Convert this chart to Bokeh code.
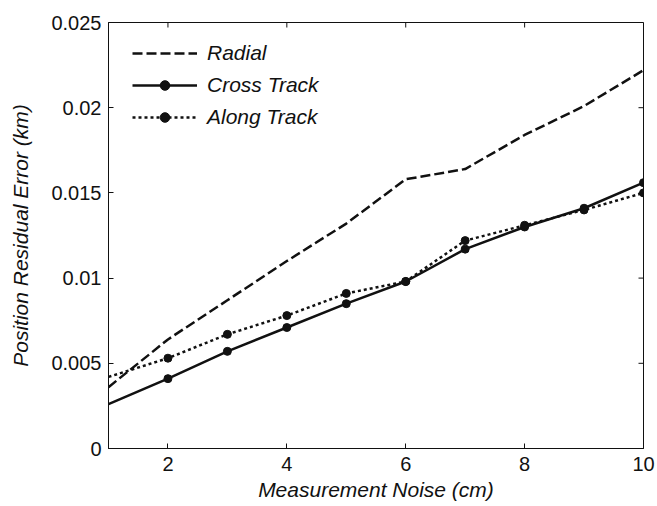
import math
from bokeh.plotting import figure
from bokeh.models import FixedTicker, Legend, LegendItem, Range1d
from bokeh.embed import file_html
from bokeh.resources import INLINE

# ---- data ----
noise_cm = [1, 2, 3, 4, 5, 6, 7, 8, 9, 10]
radial = [0.0036, 0.0064, 0.0087, 0.0110, 0.0132, 0.0158, 0.0164, 0.0184, 0.0201, 0.0222]
cross_track = [0.0026, 0.0041, 0.0057, 0.0071, 0.0085, 0.0098, 0.0117, 0.0130, 0.0141, 0.0156]
along_track = [0.0042, 0.0053, 0.0067, 0.0078, 0.0091, 0.0098, 0.0122, 0.0131, 0.0140, 0.0150]
x_ticks = [2, 4, 6, 8, 10]
y_ticks = [0, 0.005, 0.01, 0.015, 0.02, 0.025]
y_tick_labels = ["0", "0.005", "0.01", "0.015", "0.02", "0.025"]
series_names = ["Radial", "Cross Track", "Along Track"]
x_label = "Measurement Noise (cm)"
y_label = "Position Residual Error (km)"
x_min, x_max = 1, 10
y_min, y_max = 0, 0.025

FONT = "Liberation Sans"
INK = "#111111"

p = figure(width=657, height=506, output_backend="svg", toolbar_location=None,
           x_range=Range1d(x_min, x_max), y_range=Range1d(y_min, y_max),
           min_border_left=108, min_border_right=14, min_border_top=22, min_border_bottom=58,
           background_fill_color="white", border_fill_color="white")
p.grid.visible = False
p.outline_line_color = INK
p.outline_line_width = 1

# lines
r_rad = p.line(noise_cm, radial, line_color=INK, line_width=2.5, line_dash="10 4")
r_cross = p.line(noise_cm, cross_track, line_color=INK, line_width=2.5)
r_along = p.line(noise_cm, along_track, line_color=INK, line_width=2.5, line_dash="3 3")
m_cross = p.scatter(noise_cm[1:], cross_track[1:], size=8, color=INK)
m_along = p.scatter(noise_cm[1:], along_track[1:], size=8, color=INK)

# inward ticks on the top and right edges (MATLAB box style)
p.ray(x=x_ticks, y=[y_max] * len(x_ticks), length=5, length_units="screen",
      angle=-math.pi / 2, line_color=INK, line_width=1)
p.ray(x=[x_max] * len(y_ticks), y=y_ticks, length=5, length_units="screen",
      angle=math.pi, line_color=INK, line_width=1)

# axes styling
def style_axis(ax):
    ax.axis_line_color = INK
    ax.major_tick_line_color = INK
    ax.major_tick_in = 5
    ax.major_tick_out = 0
    ax.minor_tick_line_color = None
    ax.major_label_text_font = FONT
    ax.major_label_text_color = INK
    ax.major_label_text_font_size = "20px"
    ax.axis_label_text_font = FONT
    ax.axis_label_text_font_style = "italic"
    ax.axis_label_text_font_size = "21px"
    ax.axis_label_text_color = INK

xa = p.xaxis[0]
xa.ticker = FixedTicker(ticks=x_ticks)
style_axis(xa)
xa.major_label_standoff = 8
xa.axis_label = x_label
xa.axis_label_standoff = 4

ya = p.yaxis[0]
ya.ticker = FixedTicker(ticks=y_ticks)
ya.major_label_overrides = {t: l for t, l in zip(y_ticks, y_tick_labels)}
style_axis(ya)
ya.major_label_standoff = 7
ya.axis_label = y_label
ya.axis_label_standoff = 16

legend = Legend(items=[
    LegendItem(label=series_names[0], renderers=[r_rad]),
    LegendItem(label=series_names[1], renderers=[r_cross, m_cross]),
    LegendItem(label=series_names[2], renderers=[r_along, m_along]),
], location=(24, 319))
legend.label_text_font = FONT
legend.label_text_font_style = "italic"
legend.label_text_font_size = "21px"
legend.label_text_color = INK
legend.glyph_width = 65
legend.glyph_height = 24
legend.label_height = 24
legend.spacing = 8
legend.padding = 0
legend.margin = 0
legend.label_standoff = 10
legend.border_line_color = None
legend.background_fill_alpha = 0
p.add_layout(legend, "center")

open("out.html", "w").write(file_html(p, INLINE))
